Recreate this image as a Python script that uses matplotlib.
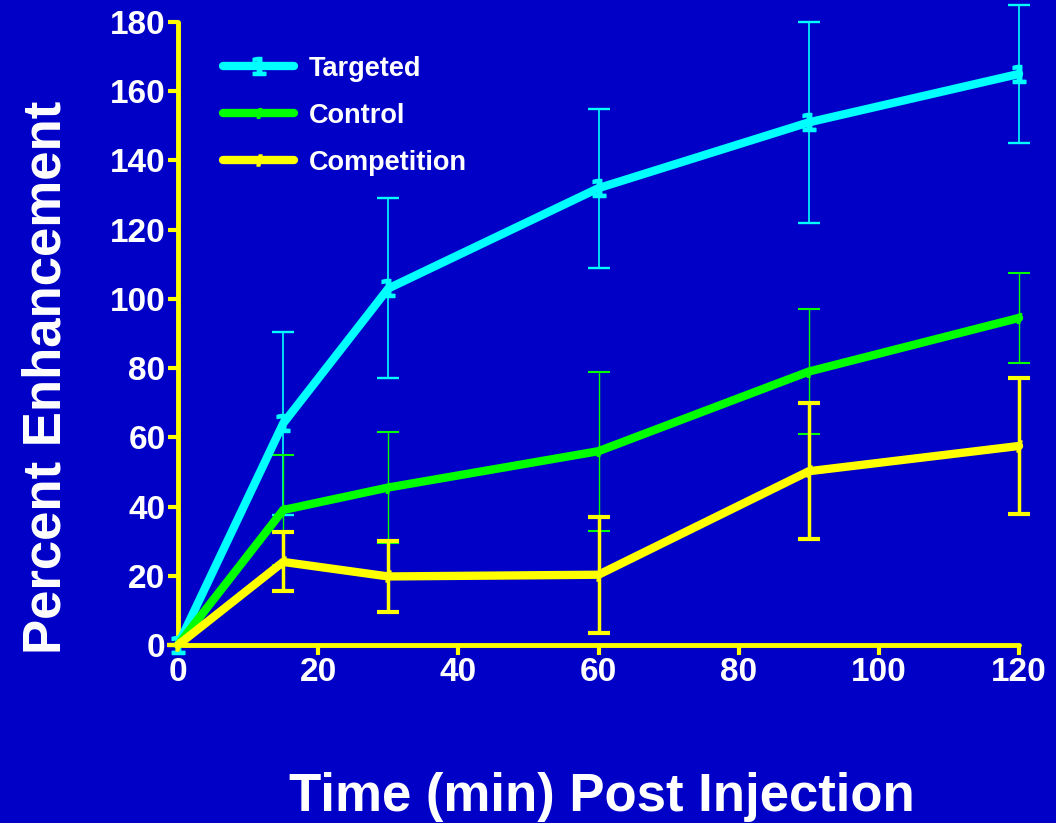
import matplotlib.pyplot as plt
from matplotlib.lines import Line2D

plt.rcParams['font.family'] = ['Liberation Sans', 'DejaVu Sans']
plt.rcParams['font.weight'] = 'bold'

# data
time = [0, 15, 30, 60, 90, 120]

targeted = [0, 64, 103, 132, 151, 165]
targeted_err = [0, 26.5, 26, 23, 29, 20]

control = [0, 39, 45.5, 56, 79, 94.5]
control_err = [0, 16, 16, 23, 18, 13]

competition = [0, 24, 19.8, 20.3, 50.2, 57.5]
competition_err = [0, 8.5, 10.3, 16.8, 19.7, 19.7]

bg = '#0000C6'

fig = plt.figure(figsize=(10.56, 8.23), dpi=100, facecolor=bg)
ax = fig.add_axes([0.1686, 0.2163, 0.7964, 0.757])
ax.set_facecolor(bg)

series = [
    ('Targeted', targeted, targeted_err, '#00FFFF', 1.2, '$1$', 13),
    ('Control', control, control_err, '#00FF00', 1.0, '$I$', 7),
    ('Competition', competition, competition_err, '#FFFF00', 2.5, '$I$', 8),
]
handles = []
for name, vals, err, col, elw, mk, ms in series:
    ax.errorbar(time, vals, yerr=err, color=col, lw=6, elinewidth=elw,
                capsize=8, capthick=elw + 0.5, marker=mk, markersize=ms,
                solid_capstyle='round', clip_on=False, zorder=3)
    handles.append(Line2D([], [], color=col, lw=6, marker=mk, markersize=ms,
                          solid_capstyle='round', label=name))

ax.set_xlim(0, 120)
ax.set_ylim(0, 180)
ax.set_xticks(range(0, 121, 20))
ax.set_yticks(range(0, 181, 20))

for side in ['top', 'right']:
    ax.spines[side].set_visible(False)
for side in ['left', 'bottom']:
    ax.spines[side].set_color('#FFFF00')
    ax.spines[side].set_linewidth(3.5)
    ax.spines[side].set_capstyle('round')
ax.tick_params(colors='#FFFF00', width=3, length=7, direction='out', labelcolor='white',
               labelsize=24, pad=2)
for lbl in ax.get_xticklabels() + ax.get_yticklabels():
    lbl.set_fontweight('bold')

fig.text(0.044, 0.542, 'Percent Enhancement', color='white', fontsize=38,
         fontweight='bold', rotation=90, ha='center', va='center')
fig.text(0.57, 0.032, 'Time (min) Post Injection', color='white', fontsize=38,
         fontweight='bold', ha='center', va='center')

leg = ax.legend(handles=handles, loc='upper left', bbox_to_anchor=(0.025, 0.985), frameon=False,
                fontsize=19.5, handlelength=2.6, labelspacing=0.78, handletextpad=0.55)
for t in leg.get_texts():
    t.set_color('white')
    t.set_fontweight('bold')

fig.savefig('out.png', dpi=100, facecolor=bg)
